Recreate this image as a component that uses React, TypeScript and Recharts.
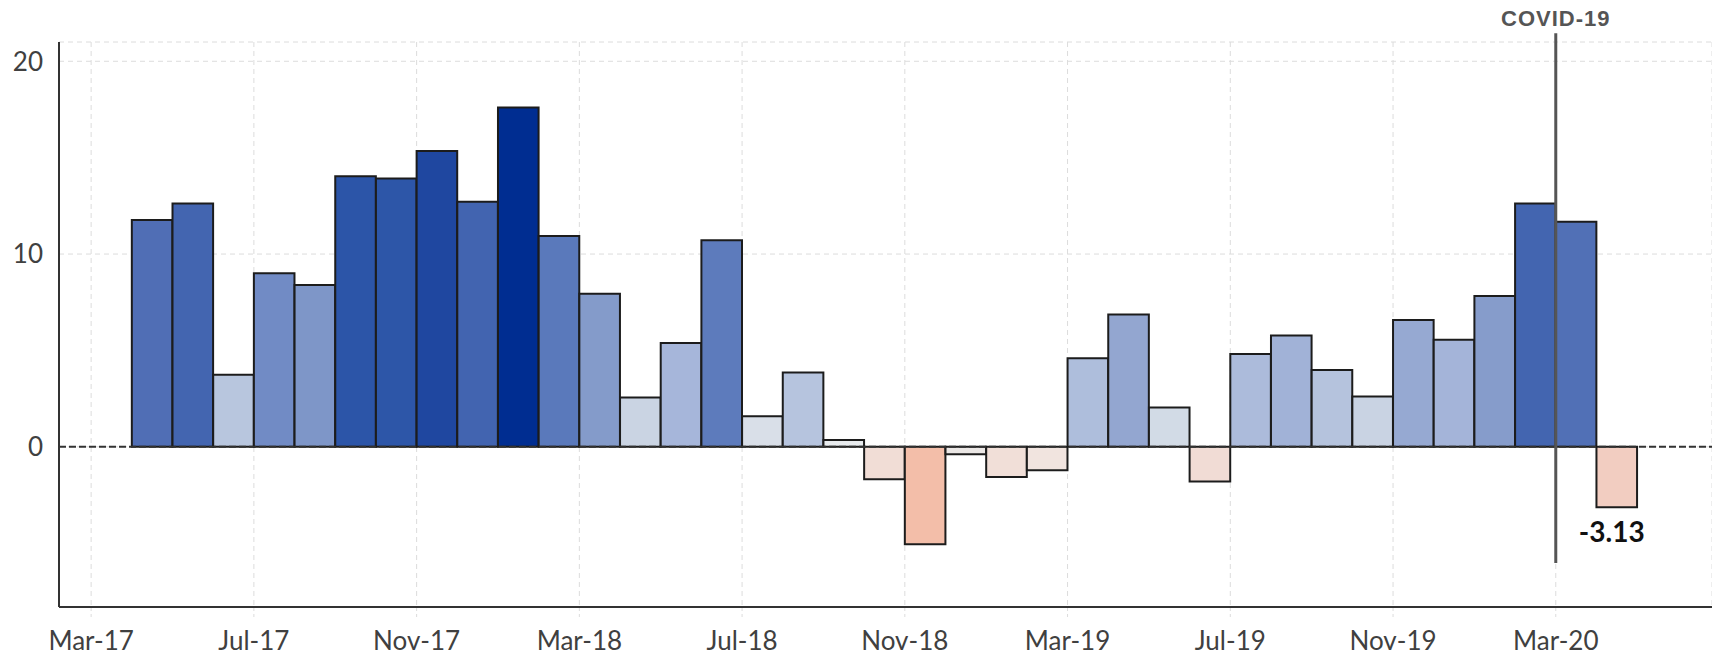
import { ComposedChart, Bar, Cell, XAxis, YAxis, CartesianGrid, ReferenceLine, LabelList } from 'recharts';

// monthly bars, Apr-17 .. Apr-20 (each bar sits between its month tick and the next)
const months = [
  'Apr-17', 'May-17', 'Jun-17', 'Jul-17', 'Aug-17', 'Sep-17', 'Oct-17', 'Nov-17', 'Dec-17',
  'Jan-18', 'Feb-18', 'Mar-18', 'Apr-18', 'May-18', 'Jun-18', 'Jul-18', 'Aug-18', 'Sep-18',
  'Oct-18', 'Nov-18', 'Dec-18', 'Jan-19', 'Feb-19', 'Mar-19', 'Apr-19', 'May-19', 'Jun-19',
  'Jul-19', 'Aug-19', 'Sep-19', 'Oct-19', 'Nov-19', 'Dec-19', 'Jan-20', 'Feb-20', 'Mar-20', 'Apr-20',
];

const values = [
  11.76, 12.62, 3.74, 9.0, 8.39, 14.04, 13.92, 15.35, 12.71,
  17.6, 10.94, 7.94, 2.56, 5.39, 10.71, 1.59, 3.86, 0.35,
  -1.68, -5.05, -0.38, -1.57, -1.21, 4.6, 6.86, 2.04, -1.8,
  4.82, 5.78, 3.98, 2.61, 6.58, 5.56, 7.82, 12.62, 11.67, -3.13,
];

const tickLabels = ['Mar-17', 'Jul-17', 'Nov-17', 'Mar-18', 'Jul-18', 'Nov-18', 'Mar-19', 'Jul-19', 'Nov-19', 'Mar-20'];
const yTicks = [0, 10, 20];

const notes: Record<string, string> = { 'Apr-20': '-3.13' };
const covidMonth = 'Mar-20';
const covidLabel = 'COVID-19';

// axis index 0 = Mar-17, one unit per month
const firstBarIndex = 1;
const tickStep = 4;

const data = months.map((m, i) => ({
  month: m,
  x: firstBarIndex + i + 0.5,
  value: values[i],
  note: notes[m] ?? '',
}));

const xTicks = tickLabels.map((_, i) => i * tickStep);
const covidX = tickLabels.indexOf(covidMonth) * tickStep;

// diverging colour ramp (blue positive, salmon negative)
const posStops: [number, string][] = [
  [0, '#eeeff1'], [2, '#d3dbe6'], [3.7, '#b8c6de'], [5.4, '#a6b6da'], [6.9, '#92a6d0'],
  [8.4, '#7e96c8'], [9, '#718bc5'], [10.9, '#5b79bb'], [11.8, '#4f6eb5'], [12.7, '#4264b0'],
  [14, '#2c55a8'], [15.4, '#1e46a0'], [17.6, '#002d91'],
];
const negStops: [number, string][] = [
  [0, '#ece9e7'], [0.4, '#ebe7e5'], [1.2, '#f1e4df'], [1.7, '#f1ddd6'], [3.1, '#f2cdc1'], [5.1, '#f3bea8'],
];

const hexToRgb = (h: string) => [1, 3, 5].map(k => parseInt(h.slice(k, k + 2), 16));

const colorFor = (v: number) => {
  const stops = v >= 0 ? posStops : negStops;
  const a = Math.abs(v);
  for (let i = 1; i < stops.length; i++) {
    if (a <= stops[i][0]) {
      const [v0, c0] = stops[i - 1];
      const [v1, c1] = stops[i];
      const t = (a - v0) / (v1 - v0);
      const p = hexToRgb(c0);
      const q = hexToRgb(c1);
      return `rgb(${p.map((c, k) => Math.round(c + (q[k] - c) * t)).join(',')})`;
    }
  }
  return stops[stops.length - 1][1];
};

const tickFont = { fontFamily: 'Lato, "Open Sans", sans-serif', fontSize: 26, fill: '#404040' };

const NoteLabel = (props: any) => {
  const { x, y, width, height, value } = props;
  if (!value) return null;
  const bottom = Math.max(y, y + height);
  return (
    <text
      x={x + width / 2 - 5}
      y={bottom + 28}
      textAnchor="middle"
      dominantBaseline="middle"
      fontFamily='Lato, "Open Sans", sans-serif'
      fontWeight={700}
      fontSize={28}
      fill="#111"
    >
      {value}
    </text>
  );
};

export default function App() {
  return (
    <div style={{ position: 'absolute', left: 0, top: 0, width: 1712, height: 656, background: '#fff' }}>
      <ComposedChart width={1712} height={656} data={data} margin={{ top: 42, right: 0, bottom: 0, left: 0 }}>
        <CartesianGrid stroke="#dcdcdc" strokeDasharray="5 4" />
        <XAxis
          type="number"
          dataKey="x"
          domain={[-0.79, 39.84]}
          allowDataOverflow
          ticks={xTicks}
          interval={0}
          tickFormatter={(v: number) => tickLabels[Math.round(v / tickStep)]}
          height={49}
          axisLine={{ stroke: '#333', strokeWidth: 2 }}
          tickLine={{ stroke: '#dcdcdc', strokeDasharray: '3 3' }}
          tickSize={10}
          tickMargin={15}
          tick={tickFont}
        />
        <YAxis
          domain={[-8.31, 21]}
          allowDataOverflow
          ticks={yTicks}
          width={59}
          axisLine={{ stroke: '#333', strokeWidth: 2 }}
          tickLine={false}
          tickSize={0}
          tickMargin={16}
          tick={tickFont}
        />
        <Bar dataKey="value" barSize={40.6} stroke="#1c1c1c" strokeWidth={2} isAnimationActive={false}>
          {data.map(d => (
            <Cell key={d.month} fill={colorFor(d.value)} />
          ))}
          <LabelList dataKey="note" content={NoteLabel} />
        </Bar>
        <ReferenceLine y={0} stroke="#333" strokeWidth={2} strokeDasharray="7 3" />
        <ReferenceLine
          segment={[{ x: covidX, y: 21.46 }, { x: covidX, y: -6.03 }]}
          ifOverflow="visible"
          stroke="#555"
          strokeWidth={3}
          label={{
            value: covidLabel,
            position: 'top',
            offset: 7,
            fill: '#555',
            fontSize: 22,
            fontWeight: 700,
            letterSpacing: 1,
            fontFamily: '"Liberation Sans", Arial, sans-serif',
          }}
        />
      </ComposedChart>
    </div>
  );
}
